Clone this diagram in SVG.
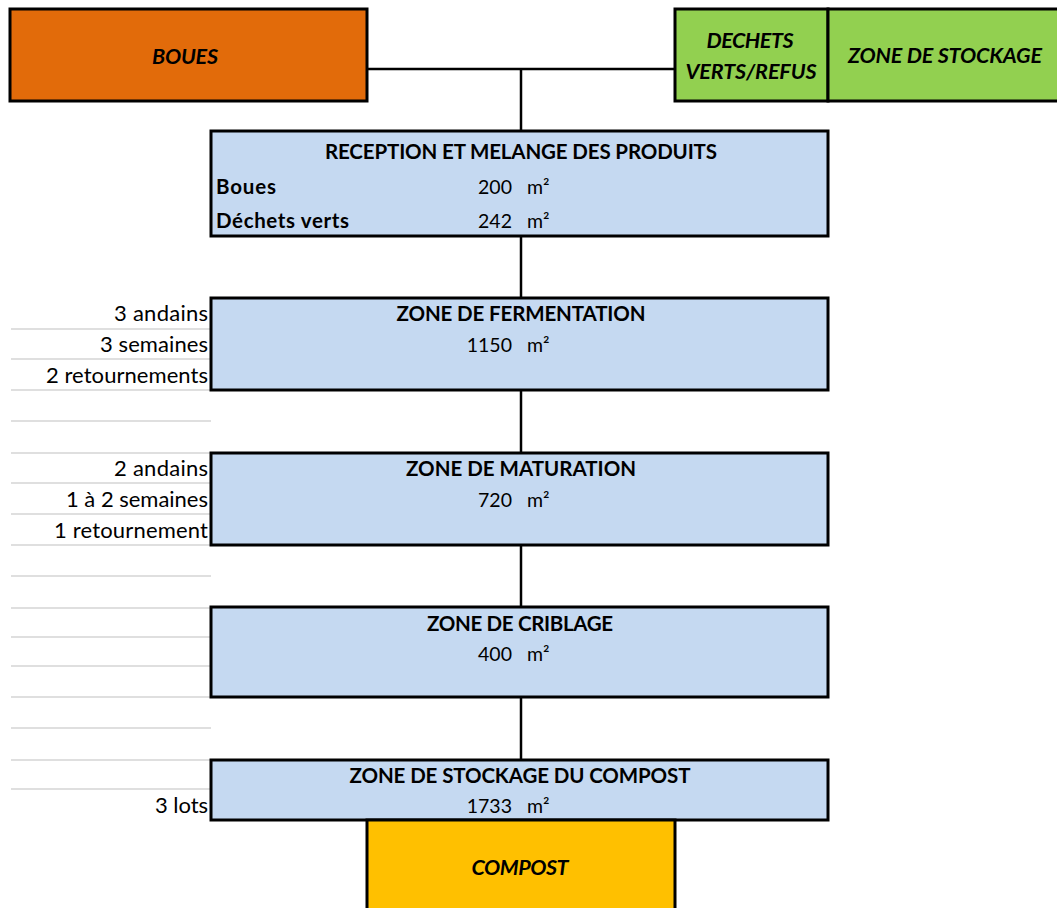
<svg xmlns="http://www.w3.org/2000/svg" width="1057" height="908" viewBox="0 0 1057 908">
<style>
.t{font-family:Lato,"Liberation Sans",sans-serif;font-size:19.5px;fill:#000}
.b{font-weight:bold;font-size:20.5px}
.i{font-style:italic;font-weight:bold;font-size:21.5px}
.l{font-size:22px}
.m{text-anchor:middle}
.e{text-anchor:end}
.box{stroke:#000;stroke-width:3}
.zone{fill:#C5D9F1}
.grid{stroke:#D4D4D4;stroke-width:1.5}
.conn{stroke:#000;stroke-width:2.5;fill:none}
</style>
<rect width="1057" height="908" fill="#fff"/>
<g id="grid">
<line class="grid" x1="11" y1="329" x2="211" y2="329"/>
<line class="grid" x1="11" y1="359" x2="211" y2="359"/>
<line class="grid" x1="11" y1="390" x2="211" y2="390"/>
<line class="grid" x1="11" y1="421" x2="211" y2="421"/>
<line class="grid" x1="11" y1="453" x2="211" y2="453"/>
<line class="grid" x1="11" y1="483" x2="211" y2="483"/>
<line class="grid" x1="11" y1="514" x2="211" y2="514"/>
<line class="grid" x1="11" y1="545" x2="211" y2="545"/>
<line class="grid" x1="11" y1="576" x2="211" y2="576"/>
<line class="grid" x1="11" y1="608" x2="211" y2="608"/>
<line class="grid" x1="11" y1="637" x2="211" y2="637"/>
<line class="grid" x1="11" y1="666" x2="211" y2="666"/>
<line class="grid" x1="11" y1="697" x2="211" y2="697"/>
<line class="grid" x1="11" y1="728" x2="211" y2="728"/>
<line class="grid" x1="11" y1="760" x2="211" y2="760"/>
<line class="grid" x1="11" y1="789" x2="211" y2="789"/>
</g>
<g id="connectors">
<line class="conn" x1="367" y1="69" x2="675" y2="69"/>
<line class="conn" x1="521" y1="69" x2="521" y2="131"/>
<line class="conn" x1="521" y1="236" x2="521" y2="298"/>
<line class="conn" x1="521" y1="390" x2="521" y2="453"/>
<line class="conn" x1="521" y1="545" x2="521" y2="607"/>
<line class="conn" x1="521" y1="697" x2="521" y2="760"/>
</g>
<g id="boues">
<rect class="box" x="10" y="9" width="357" height="92" fill="#E26B0A"/>
<text class="t i m" x="185" y="64" textLength="66">BOUES</text>
</g>
<g id="dechets">
<rect class="box" x="675" y="9" width="153" height="92" fill="#92D050"/>
<text class="t i m" x="750" y="48" textLength="87">DECHETS</text>
<text class="t i m" x="751" y="79" textLength="131">VERTS/REFUS</text>
</g>
<g id="stockage">
<rect class="box" x="828" y="9" width="232" height="92" fill="#92D050"/>
<text class="t i m" x="945" y="63" textLength="194">ZONE DE STOCKAGE</text>
</g>
<g id="reception">
<rect class="box zone" x="211" y="131" width="617" height="105"/>
<text class="t b m" x="521" y="159" textLength="392">RECEPTION ET MELANGE DES PRODUITS</text>
<text class="t b" x="216" y="194" textLength="60">Boues</text>
<text class="t e" x="512" y="194">200</text>
<text class="t" x="527" y="194">m²</text>
<text class="t b" x="216" y="228" textLength="133">Déchets verts</text>
<text class="t e" x="512" y="228">242</text>
<text class="t" x="527" y="228">m²</text>
</g>
<g id="fermentation">
<rect class="box zone" x="211" y="298" width="617" height="92"/>
<text class="t b m" x="521" y="321" textLength="249">ZONE DE FERMENTATION</text>
<text class="t e" x="512" y="352">1150</text>
<text class="t" x="527" y="352">m²</text>
<text class="t l e" x="208" y="321" textLength="94">3 andains</text>
<text class="t l e" x="208" y="352" textLength="108">3 semaines</text>
<text class="t l e" x="208" y="383" textLength="162">2 retournements</text>
</g>
<g id="maturation">
<rect class="box zone" x="211" y="453" width="617" height="92"/>
<text class="t b m" x="521" y="476" textLength="230">ZONE DE MATURATION</text>
<text class="t e" x="512" y="507">720</text>
<text class="t" x="527" y="507">m²</text>
<text class="t l e" x="208" y="476" textLength="94">2 andains</text>
<text class="t l e" x="208" y="507" textLength="142">1 à 2 semaines</text>
<text class="t l e" x="208" y="538" textLength="154">1 retournement</text>
</g>
<g id="criblage">
<rect class="box zone" x="211" y="607" width="617" height="90"/>
<text class="t b m" x="520" y="631" textLength="186">ZONE DE CRIBLAGE</text>
<text class="t e" x="512" y="661">400</text>
<text class="t" x="527" y="661">m²</text>
</g>
<g id="stockage-compost">
<rect class="box zone" x="211" y="760" width="617" height="60"/>
<text class="t b m" x="520" y="783" textLength="341">ZONE DE STOCKAGE DU COMPOST</text>
<text class="t e" x="512" y="813">1733</text>
<text class="t" x="527" y="813">m²</text>
<text class="t l e" x="208" y="813" textLength="53">3 lots</text>
</g>
<g id="compost">
<rect class="box" x="367" y="820" width="308" height="95" fill="#FFC000"/>
<text class="t i m" x="520" y="875" textLength="97">COMPOST</text>
</g>
</svg>
